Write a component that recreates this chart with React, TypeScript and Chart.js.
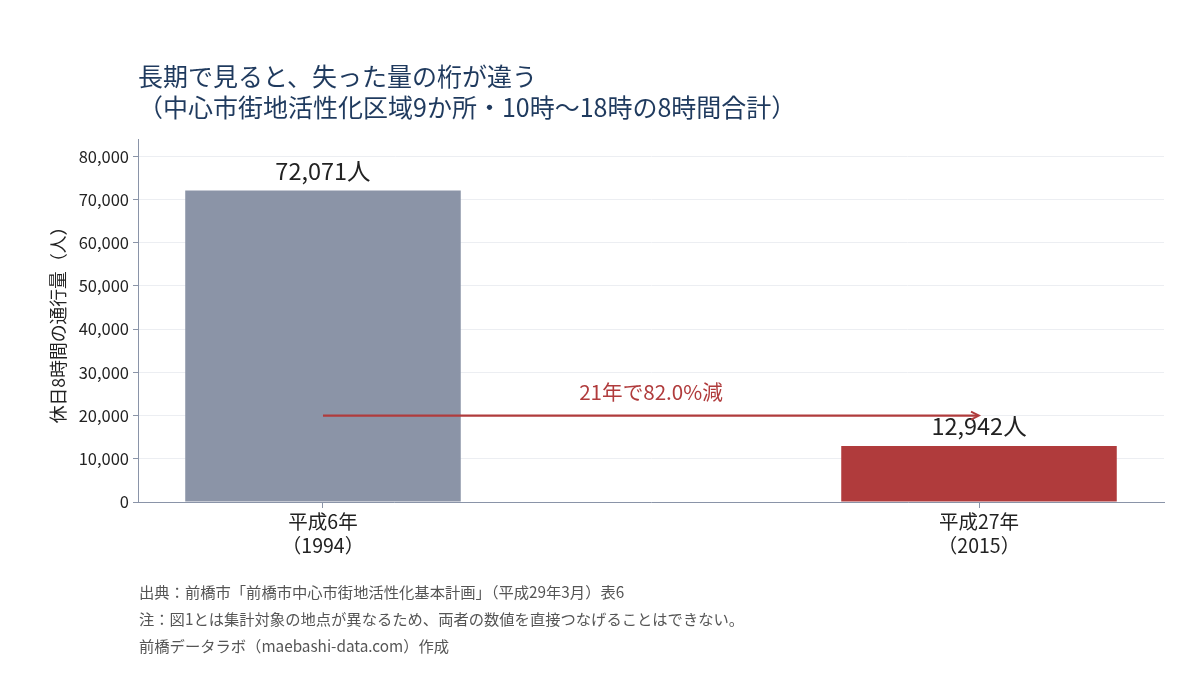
import React, { useEffect, useRef } from "react";
import { Chart, registerables } from "chart.js";

Chart.register(...registerables);

const categories: string[][] = [["平成6年", "（1994）"], ["平成27年", "（2015）"]];
const values: number[] = [72071, 12942];
const valueLabels: string[] = ["72,071人", "12,942人"];
const barColors: string[] = ["#8b94a7", "#b03b3c"];
const yTicks: number[] = [0, 10000, 20000, 30000, 40000, 50000, 60000, 70000, 80000];
const titleLines: string[] = [
  "長期で見ると、失った量の桁が違う",
  "（中心市街地活性化区域9か所・10時〜18時の8時間合計）",
];
const footerLines: string[] = [
  "出典：前橋市「前橋市中心市街地活性化基本計画」（平成29年3月）表6",
  "注：図1とは集計対象の地点が異なるため、両者の数値を直接つなげることはできない。",
  "前橋データラボ（maebashi-data.com）作成",
];
const arrowLevel = 20000;
const arrowText = "21年で82.0%減";
const yTitle = "休日8時間の通行量（人）";

const FONT = '"Noto Sans CJK JP", "Noto Sans", sans-serif';
const AXIS = "#8a94a8";

const overlay = {
  id: "overlay",
  afterDraw(chart: any) {
    const ctx = chart.ctx;
    const xs = chart.scales.x;
    const ys = chart.scales.y;
    ctx.save();
    // title
    ctx.fillStyle = "#1f3a5e";
    ctx.font = `25px ${FONT}`;
    ctx.textBaseline = "middle";
    ctx.textAlign = "left";
    ctx.fillText(titleLines[0], 138, 76);
    ctx.fillText(titleLines[1], 138, 107);
    // footer
    ctx.fillStyle = "#555555";
    ctx.font = `15.3px ${FONT}`;
    footerLines.forEach((t, i) => ctx.fillText(t, 139, 592 + i * 27));
    // value labels
    ctx.fillStyle = "#222222";
    ctx.font = `23.5px ${FONT}`;
    ctx.textAlign = "center";
    ctx.textBaseline = "bottom";
    values.forEach((v, i) => {
      ctx.fillText(valueLabels[i], xs.getPixelForValue(i), ys.getPixelForValue(v) - 8);
    });
    // arrow
    const x0 = xs.getPixelForValue(0);
    const x1 = xs.getPixelForValue(1);
    const y = ys.getPixelForValue(arrowLevel);
    ctx.strokeStyle = "#b03b3c";
    ctx.fillStyle = "#b03b3c";
    ctx.lineWidth = 2.2;
    ctx.beginPath();
    ctx.moveTo(x0, y);
    ctx.lineTo(x1 - 2, y);
    ctx.stroke();
    ctx.lineWidth = 1.8;
    ctx.beginPath();
    ctx.moveTo(x1 - 8, y - 4);
    ctx.lineTo(x1, y);
    ctx.lineTo(x1 - 8, y + 4);
    ctx.stroke();
    ctx.font = `20.6px ${FONT}`;
    ctx.textBaseline = "middle";
    ctx.fillText(arrowText, (x0 + x1) / 2, y - 23);
    ctx.restore();
  },
};

export default function App() {
  const ref = useRef<HTMLCanvasElement | null>(null);
  useEffect(() => {
    document.body.style.margin = "0";
    const chart = new Chart(ref.current as HTMLCanvasElement, {
      type: "bar",
      data: {
        datasets: [
          {
            data: values.map((v, i) => ({ x: i, y: v })),
            backgroundColor: barColors,
            barPercentage: 0.42,
            categoryPercentage: 1,
          } as any,
        ],
      },
      options: {
        animation: false,
        responsive: false,
        devicePixelRatio: 1,
        layout: { padding: { top: 139, right: 36, bottom: 0, left: 44 } },
        plugins: { legend: { display: false }, tooltip: { enabled: false }, title: { display: false } },
        scales: {
          x: {
            type: "linear",
            min: -0.282,
            max: 1.282,
            offset: false,
            afterBuildTicks: (s: any) => {
              s.ticks = categories.map((_, i) => ({ value: i }));
            },
            afterFit: (s: any) => {
              s.height = 173;
            },
            ticks: {
              callback: (v: any) => categories[v as number],
              color: "#222222",
              font: { family: FONT, size: 19.5 },
              padding: 2,
              maxRotation: 0,
              autoSkip: false,
            },
            grid: { offset: false, drawOnChartArea: false, drawTicks: true, tickLength: 6, color: AXIS },
            border: { color: AXIS, width: 1 },
          },
          y: {
            min: 0,
            max: 84000,
            afterBuildTicks: (s: any) => {
              s.ticks = yTicks.map((v) => ({ value: v }));
            },
            afterFit: (s: any) => {
              s.width = 94;
            },
            ticks: {
              callback: (v: any) => Number(v).toLocaleString("en-US"),
              color: "#222222",
              font: { family: FONT, size: 16.5 },
              padding: 4,
            },
            grid: { color: "#eceef2", tickLength: 5, tickColor: AXIS } as any,
            border: { color: AXIS, width: 1 },
            title: {
              display: true,
              text: yTitle,
              color: "#222222",
              font: { family: FONT, size: 17.8 },
              padding: { top: 4, bottom: 0 },
            },
          },
        },
      },
      plugins: [overlay],
    } as any);
    return () => chart.destroy();
  }, []);
  return (
    <div style={{ position: "absolute", left: 0, top: 0, width: 1200, height: 675, background: "#fff" }}>
      <canvas ref={ref} width={1200} height={675} />
    </div>
  );
}
